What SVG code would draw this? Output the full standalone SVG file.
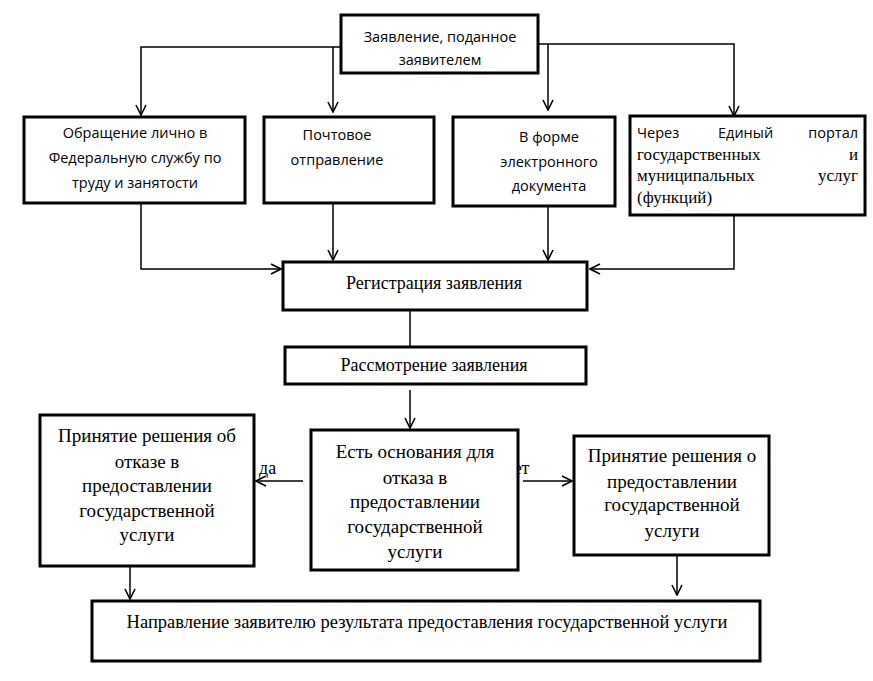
<svg xmlns="http://www.w3.org/2000/svg" width="873" height="681" viewBox="0 0 873 681">
<defs>
<marker id="ar" viewBox="0 0 12 12" refX="11" refY="6" markerWidth="12" markerHeight="12" markerUnits="userSpaceOnUse" orient="auto">
<path d="M1,1 L11,6 L1,11" fill="none" stroke="#000" stroke-width="1.6"/>
</marker>
<style>
.box{fill:#fff;stroke:#000;stroke-width:3}
.ln{fill:none;stroke:#000;stroke-width:1.5}
.arr{fill:none;stroke:#000;stroke-width:1.5;marker-end:url(#ar)}
.s{font-family:"Open Sans","Liberation Sans",sans-serif;font-size:14.5px;fill:#000}
.t{font-family:"Liberation Serif","Times New Roman",serif;font-size:18px;fill:#000}
.b{font-size:19px}
.c{text-anchor:middle}
</style>
</defs>
<rect width="873" height="681" fill="#fff"/>
<g id="connectors">
<polyline class="arr" points="341,47 141,47 141,115"/>
<line class="arr" x1="333" y1="47" x2="333" y2="112"/>
<line class="arr" x1="548" y1="44" x2="548" y2="110"/>
<polyline class="arr" points="538,44 734,44 734,116"/>
<polyline class="arr" points="141,203 141,269 281,269"/>
<line class="arr" x1="333" y1="203" x2="333" y2="260"/>
<line class="arr" x1="548" y1="206" x2="548" y2="260"/>
<polyline class="arr" points="734,215 734,269 590,269"/>
<line class="ln" x1="410" y1="310" x2="410" y2="347"/>
<line class="arr" x1="410" y1="390" x2="410" y2="428"/>
<line class="arr" x1="303" y1="481" x2="256" y2="481"/>
<line class="arr" x1="523" y1="481" x2="572" y2="481"/>
<line class="arr" x1="130" y1="566" x2="130" y2="599"/>
<line class="arr" x1="677" y1="556" x2="677" y2="595"/>
<text class="t" x="259" y="474">да</text>
<text class="t" x="504" y="474">нет</text>
</g>
<g id="n-zayavlenie">
<rect class="box" x="341" y="15" width="197" height="58"/>
<text class="s c" x="440" y="42">Заявление, поданное</text>
<text class="s c" x="440" y="65">заявителем</text>
</g>
<g id="n-lichno">
<rect class="box" x="24" y="117" width="221" height="86"/>
<text class="s c" x="135" y="138">Обращение лично в</text>
<text class="s c" x="135" y="163">Федеральную службу по</text>
<text class="s c" x="135" y="188">труду и занятости</text>
</g>
<g id="n-pochta">
<rect class="box" x="264" y="117" width="170" height="86"/>
<text class="s c" x="337" y="140">Почтовое</text>
<text class="s c" x="337" y="165">отправление</text>
</g>
<g id="n-elektron">
<rect class="box" x="453" y="117" width="162" height="89"/>
<text class="s c" x="549" y="142">В форме</text>
<text class="s c" x="549" y="167">электронного</text>
<text class="s c" x="549" y="191">документа</text>
</g>
<g id="n-portal">
<rect class="box" x="630" y="116" width="235" height="99"/>
<text class="s" x="637" y="138">Через</text>
<text class="s" x="718" y="138">Единый</text>
<text class="s" x="858" y="138" text-anchor="end">портал</text>
<text class="t" x="637" y="160" style="font-size:17px">государственных</text>
<text class="t" x="858" y="160" text-anchor="end" style="font-size:17px">и</text>
<text class="t" x="637" y="181" style="font-size:17px">муниципальных</text>
<text class="t" x="858" y="181" text-anchor="end" style="font-size:17px">услуг</text>
<text class="t" x="637" y="203" style="font-size:17px">(функций)</text>
</g>
<g id="n-registraciya">
<rect class="box" x="283" y="262" width="304" height="48"/>
<text class="t c" x="434" y="289">Регистрация заявления</text>
</g>
<g id="n-rassmotrenie">
<rect class="box" x="285" y="347" width="301" height="37"/>
<text class="t c" x="434" y="371">Рассмотрение заявления</text>
</g>
<g id="n-osnovaniya">
<rect class="box" x="311" y="430" width="207" height="140"/>
<text class="t b c" x="415" y="458">Есть основания для</text>
<text class="t b c" x="415" y="484">отказа в</text>
<text class="t b c" x="415" y="508">предоставлении</text>
<text class="t b c" x="415" y="533">государственной</text>
<text class="t b c" x="415" y="558">услуги</text>
</g>
<g id="n-otkaz">
<rect class="box" x="40" y="415" width="214" height="151"/>
<text class="t b c" x="147" y="442">Принятие решения об</text>
<text class="t b c" x="147" y="468">отказе в</text>
<text class="t b c" x="147" y="492">предоставлении</text>
<text class="t b c" x="147" y="517">государственной</text>
<text class="t b c" x="147" y="541">услуги</text>
</g>
<g id="n-predostavlenie">
<rect class="box" x="574" y="436" width="195" height="119"/>
<text class="t b c" x="672" y="462">Принятие решения о</text>
<text class="t b c" x="672" y="488">предоставлении</text>
<text class="t b c" x="672" y="511">государственной</text>
<text class="t b c" x="672" y="537">услуги</text>
</g>
<g id="n-napravlenie">
<rect class="box" x="92" y="601" width="668" height="60"/>
<text class="t c" x="427" y="628" style="font-size:18.5px">Направление заявителю результата предоставления государственной услуги</text>
</g>
</svg>
